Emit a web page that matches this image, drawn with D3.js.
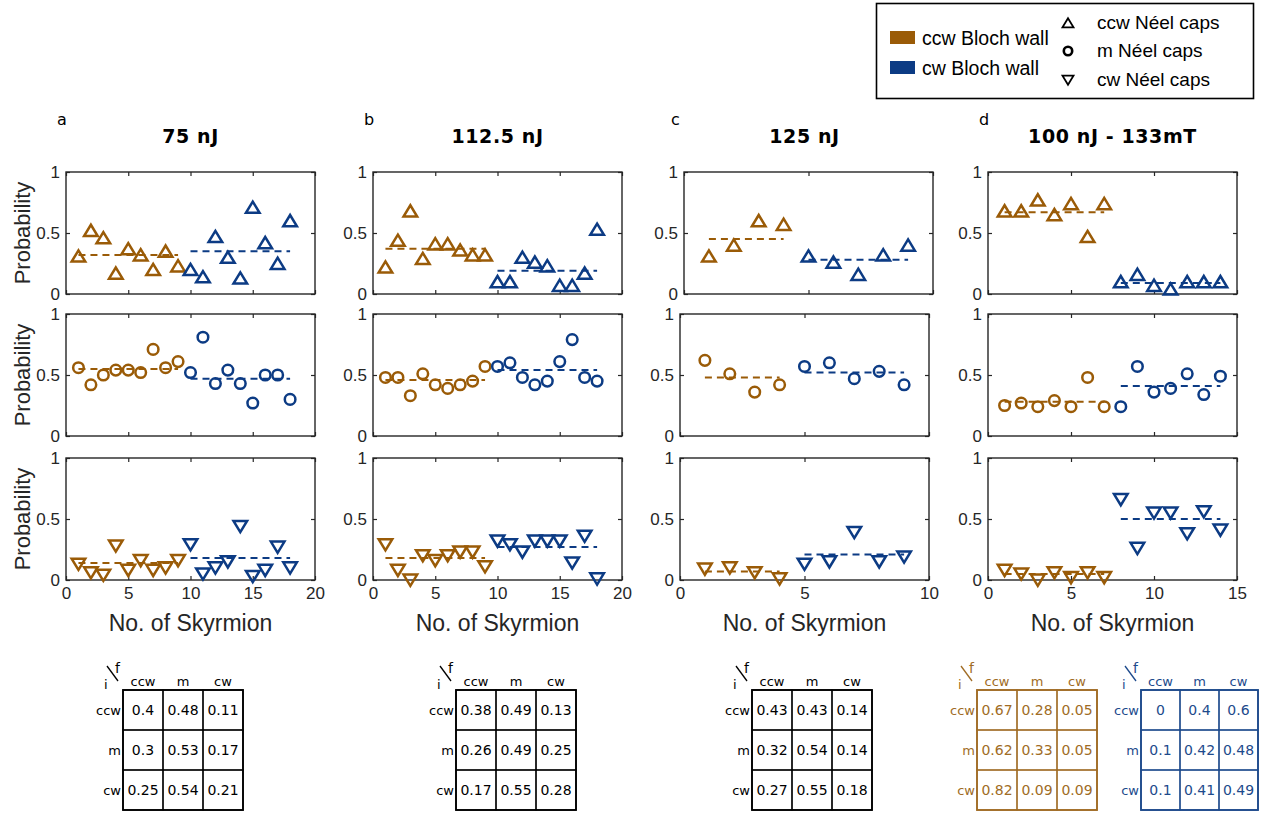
<!DOCTYPE html>
<html>
<head>
<meta charset="utf-8">
<title>Skyrmion probability</title>
<script src="https://cdnjs.cloudflare.com/ajax/libs/d3/7.8.5/d3.min.js"></script>
<style>
  body { margin: 0; background: #fff; }
</style>
</head>
<body>
<script>
var W = 1262, H = 814;
var brown = "#9a5b07", blue = "#0c3b84";
var tabBrown = "#a06c25", tabBlue = "#1d4a8c";

// a: 75 nJ  (1-9 ccw Bloch wall, 10-18 cw Bloch wall)
var ccwA = [0.31,0.52,0.46,0.17,0.37,0.32,0.2,0.35,0.23, 0.2,0.14,0.47,0.3,0.13,0.71,0.42,0.25,0.6];
var mA   = [0.56,0.42,0.5,0.54,0.54,0.52,0.71,0.56,0.61, 0.52,0.81,0.43,0.54,0.43,0.27,0.5,0.5,0.3];
var cwA  = [0.13,0.06,0.04,0.28,0.08,0.16,0.08,0.1,0.16, 0.29,0.05,0.1,0.15,0.44,0.03,0.08,0.27,0.1];
var meanA = [[0.32,0.35],[0.55,0.47],[0.14,0.18]];

// b: 112.5 nJ
var ccwB = [0.22,0.44,0.68,0.29,0.41,0.41,0.36,0.32,0.32, 0.1,0.1,0.3,0.26,0.23,0.07,0.07,0.17,0.53];
var mB   = [0.48,0.48,0.33,0.51,0.42,0.39,0.42,0.45,0.57, 0.57,0.6,0.48,0.42,0.45,0.61,0.79,0.48,0.45];
var cwB  = [0.29,0.08,0,0.2,0.16,0.2,0.23,0.23,0.11, 0.32,0.29,0.23,0.32,0.32,0.32,0.14,0.36,0.01];
var meanB = [[0.37,0.19],[0.46,0.54],[0.18,0.27]];

// c: 125 nJ  (1-4 ccw, 5-9 cw)
var ccwC = [0.31,0.4,0.6,0.57, 0.31,0.26,0.16,0.32,0.4];
var mC   = [0.62,0.51,0.36,0.42, 0.57,0.6,0.47,0.53,0.42];
var cwC  = [0.09,0.1,0.06,0.01, 0.13,0.15,0.39,0.15,0.19];
var meanC = [[0.45,0.28],[0.48,0.52],[0.07,0.21]];

// d: 100 nJ - 133mT  (1-7 ccw, 8-14 cw)
var ccwD = [0.68,0.68,0.77,0.65,0.74,0.47,0.74, 0.1,0.16,0.07,0.04,0.1,0.1,0.1];
var mD   = [0.25,0.27,0.24,0.29,0.24,0.48,0.24, 0.24,0.57,0.36,0.39,0.51,0.34,0.49];
var cwD  = [0.08,0.05,0,0.06,0.02,0.06,0.02, 0.66,0.26,0.55,0.55,0.38,0.56,0.41];
var meanD = [[0.67,0.09],[0.28,0.41],[0.05,0.5]];

// transition tables (rows i, columns f)
var stateLabels = ["ccw","m","cw"];
var tabA = [[0.4,0.48,0.11],[0.3,0.53,0.17],[0.25,0.54,0.21]];
var tabB = [[0.38,0.49,0.13],[0.26,0.49,0.25],[0.17,0.55,0.28]];
var tabC = [[0.43,0.43,0.14],[0.32,0.54,0.14],[0.27,0.55,0.18]];
var tabDccw = [[0.67,0.28,0.05],[0.62,0.33,0.05],[0.82,0.09,0.09]];
var tabDcw  = [[0,0.4,0.6],[0.1,0.42,0.48],[0.1,0.41,0.49]];

var cols = [
  {letter:"a", title:"75 nJ",          xMax:20, split:9, rows:[ccwA,mA,cwA], means:meanA},
  {letter:"b", title:"112.5 nJ",       xMax:20, split:9, rows:[ccwB,mB,cwB], means:meanB},
  {letter:"c", title:"125 nJ",         xMax:10, split:4, rows:[ccwC,mC,cwC], means:meanC},
  {letter:"d", title:"100 nJ - 133mT", xMax:15, split:7, rows:[ccwD,mD,cwD], means:meanD}
];

var svg = d3.select("body").append("svg")
  .attr("width", W).attr("height", H)
  .style("font-family", "'Liberation Sans', Arial, sans-serif");

var colLeft = [66, 373, 680, 988], pw = 249;
var rowTop = [172, 314, 458], ph = 122;
var axCol = "#262626";

function markerPath(kind, s) {
  if (kind === 0) return "M" + (-s) + "," + (0.8*s) + "L" + s + "," + (0.8*s) + "L0," + (-0.85*s) + "Z";
  if (kind === 2) return "M" + (-s) + "," + (-0.8*s) + "L" + s + "," + (-0.8*s) + "L0," + (0.85*s) + "Z";
  return null;
}

cols.forEach(function (c, ci) {
  c.rows.forEach(function (vals, ri) {
    var left = colLeft[ci] + (ci === 2 && ri === 0 ? 4 : 0);
    var top = rowTop[ri];
    var x = d3.scaleLinear().domain([0, c.xMax]).range([left, left + pw]);
    var y = d3.scaleLinear().domain([0, 1]).range([top + ph, top]);
    var g = svg.append("g");
    var xt = d3.range(0, c.xMax + 1, 5);

    g.append("g").attr("transform", "translate(" + left + ",0)")
      .call(d3.axisLeft(y).tickValues([0, 0.5, 1]).tickFormat(d3.format("~g")).tickSize(-4).tickPadding(6));
    g.append("g").attr("transform", "translate(" + (left + pw) + ",0)")
      .call(d3.axisRight(y).tickValues([0, 0.5, 1]).tickFormat("").tickSize(-4));
    g.append("g").attr("transform", "translate(0," + top + ")")
      .call(d3.axisTop(x).tickValues(xt).tickFormat("").tickSize(-4));
    g.append("g").attr("transform", "translate(0," + (top + ph) + ")")
      .call(d3.axisBottom(x).tickValues(xt).tickFormat(ri === 2 ? d3.format("d") : "").tickSize(-4).tickPadding(7));
    g.selectAll(".domain").remove();
    g.selectAll(".tick line").attr("stroke", axCol).attr("stroke-width", 1.2);
    g.selectAll(".tick text").attr("fill", axCol).style("font-size", "17px")
      .style("font-family", "'Liberation Sans', Arial, sans-serif");
    g.append("rect").attr("x", left).attr("y", top).attr("width", pw).attr("height", ph)
      .attr("fill", "none").attr("stroke", axCol).attr("stroke-width", 1.4);

    // markers
    var pts = vals.map(function (v, i) { return {n: i + 1, v: v, col: i < c.split ? brown : blue}; });
    if (ri === 1) {
      g.selectAll("circle.pt").data(pts).enter().append("circle")
        .attr("cx", function (d) { return x(d.n); })
        .attr("cy", function (d) { return y(d.v); })
        .attr("r", 5.3).attr("fill", "none")
        .attr("stroke", function (d) { return d.col; }).attr("stroke-width", 2.5);
    } else {
      g.selectAll("path.pt").data(pts).enter().append("path")
        .attr("d", markerPath(ri, 6.8))
        .attr("transform", function (d) { return "translate(" + x(d.n) + "," + y(d.v) + ")"; })
        .attr("fill", "none").attr("stroke-linejoin", "miter")
        .attr("stroke", function (d) { return d.col; }).attr("stroke-width", 2.5);
    }

    // mean levels
    var groups = [[1, c.split, brown], [c.split + 1, vals.length, blue]];
    groups.forEach(function (gr, gi) {
      g.append("line")
        .attr("x1", x(gr[0])).attr("x2", x(gr[1]))
        .attr("y1", y(c.means[ri][gi])).attr("y2", y(c.means[ri][gi]))
        .attr("stroke", gr[2]).attr("stroke-width", 2).attr("stroke-dasharray", "7,5");
    });

    if (ci === 0) {
      g.append("text").attr("transform", "translate(30," + (top + ph / 2) + ") rotate(-90)")
        .attr("text-anchor", "middle").attr("fill", axCol).style("font-size", "22px")
        .text("Probability");
    }
    if (ri === 2) {
      g.append("text").attr("x", left + pw / 2).attr("y", 631)
        .attr("text-anchor", "middle").attr("fill", axCol).style("font-size", "23px")
        .text("No. of Skyrmion");
    }
  });

  // letter + title
  svg.append("text").attr("x", colLeft[ci] - 9).attr("y", 125)
    .style("font-family", "'DejaVu Sans', Verdana, sans-serif").style("font-size", "16px")
    .text(c.letter);
  svg.append("text").attr("x", colLeft[ci] + pw / 2).attr("y", 143)
    .attr("text-anchor", "middle")
    .style("font-family", "'DejaVu Sans', Verdana, sans-serif").style("font-size", "19px")
    .style("font-weight", "bold").style("letter-spacing", "0.6px").text(c.title);
});

// tables
function drawTable(x0, y0, data, color, cell) {
  var g = svg.append("g").style("font-family", "'DejaVu Sans', Verdana, sans-serif");
  var cx = d3.scaleBand().domain([0, 1, 2]).range([x0, x0 + 3 * cell]);
  var cy = d3.scaleBand().domain([0, 1, 2]).range([y0, y0 + 3 * 40]);
  data.forEach(function (row, r) {
    row.forEach(function (v, k) {
      g.append("rect").attr("x", cx(k)).attr("y", cy(r))
        .attr("width", cx.bandwidth()).attr("height", cy.bandwidth())
        .attr("fill", "none").attr("stroke", color).attr("stroke-width", 1.2);
      g.append("text").attr("x", cx(k) + cx.bandwidth() / 2).attr("y", cy(r) + cy.bandwidth() / 2 + 5)
        .attr("text-anchor", "middle").attr("fill", color).style("font-size", "14px")
        .text(String(v));
    });
  });
  g.append("rect").attr("x", x0).attr("y", y0).attr("width", 3 * cell).attr("height", 120)
    .attr("fill", "none").attr("stroke", color).attr("stroke-width", 1.8);
  stateLabels.forEach(function (s, k) {
    g.append("text").attr("x", cx(k) + cx.bandwidth() / 2).attr("y", y0 - 4)
      .attr("text-anchor", "middle").attr("fill", color).style("font-size", "13px").text(s);
    g.append("text").attr("x", x0 - 2).attr("y", cy(k) + cy.bandwidth() / 2 + 5)
      .attr("text-anchor", "end").attr("fill", color).style("font-size", "13px").text(s);
  });
  g.append("line").attr("x1", x0 - 16).attr("y1", y0 - 24).attr("x2", x0 - 5).attr("y2", y0 - 9)
    .attr("stroke", color).attr("stroke-width", 1.3);
  g.append("text").attr("x", x0 - 8).attr("y", y0 - 17).attr("fill", color).style("font-size", "14px").text("f");
  g.append("text").attr("x", x0 - 19).attr("y", y0 - 1).attr("fill", color).style("font-size", "13px").text("i");
}
drawTable(123, 690, tabA, "#000", 40);
drawTable(456, 690, tabB, "#000", 40);
drawTable(752, 690, tabC, "#000", 40);
drawTable(977, 690, tabDccw, tabBrown, 40);
drawTable(1141, 690, tabDcw, tabBlue, 39);

// legend
var lg = svg.append("g");
lg.append("rect").attr("x", 876.5).attr("y", 3.5).attr("width", 377).attr("height", 95)
  .attr("fill", "#fff").attr("stroke", "#000").attr("stroke-width", 1.6);
[["ccw Bloch wall", brown, 45], ["cw Bloch wall", blue, 75]].forEach(function (e) {
  lg.append("rect").attr("x", 890).attr("y", e[2] - 14).attr("width", 25).attr("height", 13).attr("fill", e[1]);
  lg.append("text").attr("x", 922).attr("y", e[2]).style("font-size", "19.5px").attr("fill", "#000").text(e[0]);
});
[["ccw Néel caps", 0, 29], ["m Néel caps", 1, 57], ["cw Néel caps", 2, 86]].forEach(function (e) {
  var my = e[2] - 6;
  if (e[1] === 1) {
    lg.append("circle").attr("cx", 1068).attr("cy", my).attr("r", 4.2)
      .attr("fill", "none").attr("stroke", "#000").attr("stroke-width", 2.6);
  } else {
    lg.append("path").attr("d", markerPath(e[1], 5.5)).attr("transform", "translate(1068," + my + ")")
      .attr("fill", "none").attr("stroke", "#000").attr("stroke-width", 1.8);
  }
  lg.append("text").attr("x", 1097).attr("y", e[2]).style("font-size", "19px").attr("fill", "#000").text(e[0]);
});
</script>
</body>
</html>
